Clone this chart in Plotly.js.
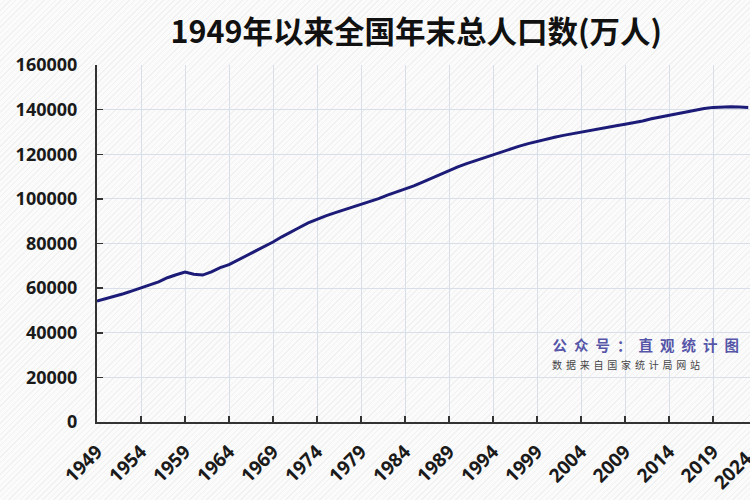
<!DOCTYPE html>
<html>
<head>
<meta charset="utf-8">
<script src="https://cdn.plot.ly/plotly-3.0.1.min.js"></script>
<style>
html,body{margin:0;padding:0;}
body{width:750px;height:500px;overflow:hidden;
background: repeating-linear-gradient(135deg,#fbfbfb 0px,#fbfbfb 3px,#f1f1f1 3px,#f1f1f1 4px);}
#chart{width:750px;height:500px;}
</style>
</head>
<body>
<div id="chart"></div>
<script>
const years = [1949,1950,1951,1952,1953,1954,1955,1956,1957,1958,1959,1960,1961,1962,1963,1964,1965,1966,1967,1968,1969,1970,1971,1972,1973,1974,1975,1976,1977,1978,1979,1980,1981,1982,1983,1984,1985,1986,1987,1988,1989,1990,1991,1992,1993,1994,1995,1996,1997,1998,1999,2000,2001,2002,2003,2004,2005,2006,2007,2008,2009,2010,2011,2012,2013,2014,2015,2016,2017,2018,2019,2020,2021,2022,2023];
const population = [54167,55196,56300,57482,58796,60266,61465,62828,64653,65994,67207,66207,65859,67296,69172,70499,72538,74542,76368,78534,80671,82992,85229,87177,89211,90859,92420,93717,94974,96259,97542,98705,100072,101654,103008,104357,105851,107507,109300,111026,112704,114333,115823,117171,118517,119850,121121,122389,123626,124761,125786,126743,127627,128453,129227,129988,130756,131448,132129,132802,133450,134091,134916,135922,136726,137646,138326,139232,140011,140541,141008,141212,141260,141175,140967];
const xTicks = [1949,1954,1959,1964,1969,1974,1979,1984,1989,1994,1999,2004,2009,2014,2019];
const xTickLast = '2024';
const yTicks = [0,20000,40000,60000,80000,100000,120000,140000,160000];
const titleText = '1949年以来全国年末总人口数(万人)';
const noteMain = '公众号：直观统计图';
const noteSub = '数据来自国家统计局网站';

const yTickFont = {family:'Noto Sans, Liberation Sans, sans-serif', size:18, color:'#1a1a1a', weight:'bold'};
const xTickFont = {family:'Noto Sans, Liberation Sans, sans-serif', size:19, color:'#1a1a1a', weight:'bold'};

Plotly.newPlot('chart', [{
  x: years, y: population, type:'scatter', mode:'lines',
  line:{color:'#1c1c78', width:3}, hoverinfo:'x+y'
}], {
  width:750, height:500,
  paper_bgcolor:'rgba(0,0,0,0)', plot_bgcolor:'rgba(0,0,0,0)',
  margin:{l:97, r:0, t:65, b:78},
  showlegend:false,
  title:{text:'<b>'+titleText+'</b>', x:0.555, xanchor:'center', y:0.935, yanchor:'middle',
    font:{family:'Noto Sans CJK SC, sans-serif', size:30.5, color:'#111'}},
  xaxis:{range:[1949,2023.2], tickvals:xTicks, ticktext:xTicks.map(String), tickangle:-45,
    showgrid:true, gridcolor:'#d9dfe8', gridwidth:1, zeroline:false,
    showline:true, linecolor:'#333', linewidth:2, ticks:'inside', ticklen:6, tickcolor:'#333', tickwidth:1.5,
    ticklabelstandoff:9, tickfont:xTickFont},
  yaxis:{range:[0,160000], tickvals:yTicks, ticktext:yTicks.map(String),
    showgrid:true, gridcolor:'#d9dfe8', gridwidth:1, zeroline:false,
    showline:true, linecolor:'#333', linewidth:2, ticks:'inside', ticklen:6, tickcolor:'#333', tickwidth:1.5,
    ticklabelstandoff:14, tickfont:yTickFont},
  annotations:[
    {xref:'paper', yref:'paper', x:1.016, y:-0.058, xanchor:'right', yanchor:'top', text:xTickLast, showarrow:false,
      textangle:-45, font:xTickFont},
    {xref:'paper', yref:'paper', x:0.743, y:0.216, xanchor:'left', yanchor:'middle', text:noteMain, showarrow:false,
      font:{family:'Noto Sans CJK SC, sans-serif', size:14.5, color:'#5656a8', weight:'bold'}},
    {xref:'paper', yref:'paper', x:0.726, y:0.160, xanchor:'left', yanchor:'middle', text:noteSub, showarrow:false,
      font:{family:'Noto Sans CJK SC, sans-serif', size:10, color:'#444'}}
  ]
}, {displayModeBar:false, staticPlot:true}).then(function(gd){
  const texts = gd.querySelectorAll('.annotation-text');
  texts.forEach(function(t){
    const s = t.textContent;
    if (s === noteMain) t.style.letterSpacing = '7px';
    if (s === noteSub) t.style.letterSpacing = '3.8px';
  });
});
</script>
</body>
</html>
